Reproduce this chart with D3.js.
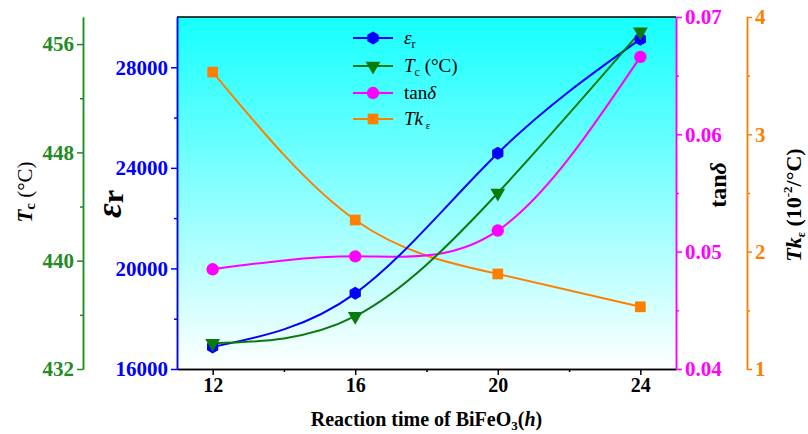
<!DOCTYPE html>
<html>
<head>
<meta charset="utf-8">
<script src="https://cdn.jsdelivr.net/npm/d3@7"></script>
<style>
  body { margin: 0; background: #fff; }
  svg { display: block; font-family: "Liberation Serif", "Times New Roman", serif; }
</style>
</head>
<body>
<div id="chart"></div>
<script>
// reaction time (h)
const times = [12, 16, 20, 24];
const epsR = [16880, 19010, 24580, 29120];
const curieT = [433.9, 435.9, 445.0, 456.9];
const tanDelta = [0.0485, 0.0496, 0.0518, 0.0666];
const tkEps = [3.53, 2.27, 1.81, 1.53];

const xTicks = [12, 16, 20, 24];
const xMinor = [14, 18, 22];
const epsTicks = [16000, 20000, 24000, 28000];
const epsMinor = [18000, 22000, 26000];
const tcTicks = [432, 440, 448, 456];
const tcMinor = [436, 444, 452];
const tanTicks = [0.04, 0.05, 0.06, 0.07];
const tanMinor = [0.045, 0.055, 0.065];
const tkTicks = [1, 2, 3, 4];
const tkMinor = [1.5, 2.5, 3.5];

const W = 808, H = 434;
const pLeft = 177, pRight = 676, pTop = 17, pBottom = 369;

const BLUE = "#0000ff", GREEN = "#0a7a0a", GREEN_AX = "#228b22", MAG = "#ff00ff", ORANGE = "#ff8000";

const svg = d3.select("#chart").append("svg")
    .attr("width", W)
    .attr("height", H);

const x = d3.scaleLinear().domain([11, 25]).range([pLeft, pRight]);
const yEps = d3.scaleLinear().domain([16000, 30000]).range([pBottom, pTop]);
const yTc = d3.scaleLinear().domain([432, 458]).range([pBottom, pTop]);
const yTan = d3.scaleLinear().domain([0.04, 0.07]).range([pBottom, pTop]);
const yTk = d3.scaleLinear().domain([1, 4]).range([pBottom, pTop]);

// background gradient
const defs = svg.append("defs");
const grad = defs.append("linearGradient")
    .attr("id", "bg")
    .attr("x1", 0).attr("y1", 0).attr("x2", 0).attr("y2", 1);
grad.append("stop").attr("offset", "0%").attr("stop-color", "#14ffff");
grad.append("stop").attr("offset", "100%").attr("stop-color", "#ffffff");

svg.append("rect")
    .attr("x", pLeft).attr("y", pTop)
    .attr("width", pRight - pLeft).attr("height", pBottom - pTop)
    .attr("fill", "url(#bg)");

// axis helper: major + minor ticks
function drawAxis(g, axisFn, scale, major, minor, fmt, color, fontSize, majorLen, minorLen) {
    g.append("g").call(axisFn(scale).tickValues(minor).tickFormat("").tickSize(minorLen).tickSizeOuter(0));
    const m = g.append("g").call(axisFn(scale).tickValues(major).tickFormat(fmt).tickSize(majorLen).tickSizeOuter(0).tickPadding(3));
    g.selectAll("path").attr("stroke", color).attr("stroke-width", 1.5);
    g.selectAll("line").attr("stroke", color).attr("stroke-width", 1.5);
    m.selectAll("text")
        .attr("fill", color)
        .style("font-family", "Liberation Serif")
        .style("font-weight", "bold")
        .style("font-size", fontSize + "px");
    return g;
}

// top spine
svg.append("line")
    .attr("x1", pLeft).attr("x2", pRight).attr("y1", pTop).attr("y2", pTop)
    .attr("stroke", "#000").attr("stroke-width", 1.5);

// x axis
drawAxis(svg.append("g").attr("transform", `translate(0,${pBottom})`),
    d3.axisBottom, x, xTicks, xMinor, d3.format("d"), "#000", 20, 6, 3);

// left eps axis
drawAxis(svg.append("g").attr("transform", `translate(${pLeft},0)`),
    d3.axisLeft, yEps, epsTicks, epsMinor, d3.format("d"), BLUE, 21, 6, 3);

// far-left Tc axis
drawAxis(svg.append("g").attr("transform", `translate(83,0)`),
    d3.axisLeft, yTc, tcTicks, tcMinor, d3.format("d"), GREEN_AX, 21, 6, 3);

// right tan axis
drawAxis(svg.append("g").attr("transform", `translate(${pRight},0)`),
    d3.axisRight, yTan, tanTicks, tanMinor, d3.format(".2f"), MAG, 21, 6, 3);

// far-right Tk axis
drawAxis(svg.append("g").attr("transform", `translate(747,0)`),
    d3.axisRight, yTk, tkTicks, tkMinor, d3.format("d"), ORANGE, 21, 5, 3);

// series
const series = [
    { name: "eps", values: epsR, y: yEps, color: BLUE, shape: "hex" },
    { name: "tc", values: curieT, y: yTc, color: GREEN, shape: "tri" },
    { name: "tan", values: tanDelta, y: yTan, color: MAG, shape: "circle" },
    { name: "tk", values: tkEps, y: yTk, color: ORANGE, shape: "square" }
];

const hexagon = {
    draw(ctx, size) {
        const r = Math.sqrt(size / 2.598);
        for (let i = 0; i < 6; i++) {
            const a = Math.PI / 6 + i * Math.PI / 3;
            const px = r * Math.cos(a), py = r * Math.sin(a);
            if (i === 0) ctx.moveTo(px, py); else ctx.lineTo(px, py);
        }
        ctx.closePath();
    }
};
const triDown = {
    draw(ctx, size) {
        const w = Math.sqrt(size * 4 / Math.sqrt(3));
        const h = w * Math.sqrt(3) / 2;
        ctx.moveTo(-w / 2, -h / 3);
        ctx.lineTo(w / 2, -h / 3);
        ctx.lineTo(0, 2 * h / 3);
        ctx.closePath();
    }
};
function markerPath(shape) {
    if (shape === "hex") return d3.symbol(hexagon, 110)();
    if (shape === "tri") return d3.symbol(triDown, 95)();
    if (shape === "circle") return d3.symbol(d3.symbolCircle, 120)();
    return d3.symbol(d3.symbolSquare, 115)();
}

// draw order: tk, tan, eps, tc
const order = [series[3], series[2], series[0], series[1]];
order.forEach(s => {
    const line = d3.line()
        .x((d, i) => x(times[i]))
        .y(d => s.y(d))
        .curve(d3.curveNatural);
    svg.append("path")
        .datum(s.values)
        .attr("d", line)
        .attr("fill", "none")
        .attr("stroke", s.color)
        .attr("stroke-width", 2);
});
order.forEach(s => {
    svg.append("g").selectAll("path")
        .data(s.values)
        .join("path")
        .attr("transform", (d, i) => `translate(${x(times[i])},${s.y(d)})`)
        .attr("d", markerPath(s.shape))
        .attr("fill", s.color);
});

// legend
const legendRows = [38, 66, 93, 119];
const leg = svg.append("g");
series.forEach((s, i) => {
    const ly = legendRows[i];
    leg.append("line")
        .attr("x1", 353).attr("x2", 393).attr("y1", ly).attr("y2", ly)
        .attr("stroke", s.color).attr("stroke-width", 2);
    leg.append("path")
        .attr("transform", `translate(373,${ly})`)
        .attr("d", markerPath(s.shape))
        .attr("fill", s.color);
});
const legText = leg.append("g")
    .style("font-family", "Liberation Serif")
    .style("font-size", "19px")
    .attr("fill", "#000");
let t = legText.append("text").attr("x", 404).attr("y", legendRows[0] + 6);
t.append("tspan").style("font-style", "italic").text("ε");
t.append("tspan").style("font-size", "12px").attr("dy", 4).text("r");
t = legText.append("text").attr("x", 404).attr("y", legendRows[1] + 6);
t.append("tspan").style("font-style", "italic").text("T");
t.append("tspan").style("font-size", "12px").attr("dy", 4).text("c");
t.append("tspan").attr("dy", -4).text(" (°C)");
t = legText.append("text").attr("x", 404).attr("y", legendRows[2] + 6);
t.append("tspan").text("tan");
t.append("tspan").style("font-style", "italic").text("δ");
t = legText.append("text").attr("x", 404).attr("y", legendRows[3] + 6);
t.append("tspan").style("font-style", "italic").text("Tk");
t.append("tspan").style("font-size", "11px").attr("dy", 4).text(" ε");

// axis titles
const xt = svg.append("text")
    .attr("x", (pLeft + pRight) / 2)
    .attr("y", 426)
    .attr("text-anchor", "middle")
    .style("font-weight", "bold")
    .style("font-size", "20px");
xt.append("tspan").text("Reaction time of BiFeO");
xt.append("tspan").style("font-size", "13px").attr("dy", 4).text("3");
xt.append("tspan").attr("dy", -4).text("(");
xt.append("tspan").style("font-style", "italic").text("h");
xt.append("tspan").text(")");

// eps title
const et = svg.append("text")
    .attr("transform", "translate(121,204) rotate(-90)")
    .attr("text-anchor", "middle")
    .style("font-weight", "bold")
    .attr("fill", "#000");
et.append("tspan").style("font-style", "italic").style("font-size", "36px").text("ε");
et.append("tspan").style("font-size", "30px").attr("dy", 2).text("r");

// Tc title
const tt = svg.append("text")
    .attr("transform", "translate(32,192) rotate(-90)")
    .attr("text-anchor", "middle")
    .style("font-size", "21px")
    .attr("fill", "#000");
tt.append("tspan").style("font-style", "italic").style("font-weight", "bold").text("T");
tt.append("tspan").style("font-weight", "bold").style("font-size", "15px").attr("dy", 3).text("c");
tt.append("tspan").attr("dy", -3).text(" (°C)");

// tan title
const tn = svg.append("text")
    .attr("transform", "translate(726,185) rotate(-90)")
    .attr("text-anchor", "middle")
    .style("font-size", "24px")
    .style("font-weight", "bold")
    .attr("fill", "#000");
tn.append("tspan").text("tan");
tn.append("tspan").style("font-style", "italic").text("δ");

// Tk title
const tk = svg.append("text")
    .attr("transform", "translate(801,205) rotate(-90)")
    .attr("text-anchor", "middle")
    .style("font-size", "22px")
    .style("font-weight", "bold")
    .attr("fill", "#000");
tk.append("tspan").style("font-style", "italic").text("Tk");
tk.append("tspan").style("font-size", "12px").attr("dy", 4).text("ε");
tk.append("tspan").attr("dy", -4).text(" (10");
tk.append("tspan").style("font-size", "13px").attr("dy", -9).text("-2");
tk.append("tspan").attr("dy", 9).text("/°C)");
</script>
</body>
</html>
